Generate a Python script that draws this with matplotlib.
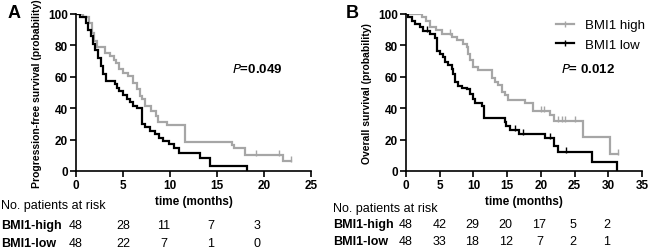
import matplotlib
matplotlib.use("Agg")
import matplotlib.pyplot as plt
from matplotlib.lines import Line2D
from matplotlib.transforms import blended_transform_factory
import numpy as np

plt.rcParams['font.family'] = ['Liberation Sans', 'DejaVu Sans']

# ---------------- data: panel A (progression-free survival) ----------------
a_high_t = [0, 0.7, 1.4, 1.7, 1.9, 2.2, 3.1, 3.6, 4.0, 4.3, 4.6, 5.0, 5.5, 6.1, 6.5,
            6.8, 7.0, 7.3, 8.0, 8.5, 8.7, 9.7, 11.6, 16.6, 16.8, 18.0, 22.0]
a_high_s = [100, 98, 94, 88, 83, 79, 75, 73, 71, 69, 65, 62.5, 60.4, 56, 52,
            48, 46, 41.7, 38, 35, 31, 29, 18.7, 16.5, 14.6, 10.4, 6.2]
a_high_end = 22.9
a_high_cens = [19.1, 21.6, 22.9]

a_low_t = [0, 0.4, 1.06, 1.31, 1.56, 1.77, 2.02, 2.38, 2.62, 2.91, 3.16, 4.15, 4.33, 4.6,
           5.04, 5.39, 5.74, 6.1, 6.45, 7.06, 7.34, 7.87, 8.4, 8.87, 9.29, 9.89, 10.4,
           11.0, 13.2, 14.3, 18.2]
a_low_s = [100, 97.9, 94, 90, 86, 81, 77, 72, 67, 62, 57.5, 55.3, 53, 51,
           48.4, 46, 43.8, 41.6, 40, 30, 27.8, 25.6, 23.4, 21.3, 19.1, 17, 14.9,
           11.5, 8.1, 3, 0]
a_low_end = 18.2
a_low_cens = []

a_risk_t = [0, 5, 10, 15, 20]
a_risk_high = [48, 28, 11, 7, 3]
a_risk_low = [48, 22, 7, 1, 0]

# ---------------- data: panel B (overall survival) ----------------
b_high_t = [0, 2.3, 3.0, 3.6, 4.5, 5.3, 6.8, 7.5, 8.5, 9.0, 9.25, 9.5, 10.0, 10.7, 12.7,
            13.2, 13.7, 14.2, 14.7, 15.2, 17.7, 18.8, 21.4, 21.9, 26.3, 30.3]
b_high_s = [100, 97.9, 95.8, 91.6, 89.5, 87.4, 85.3, 83.2, 81, 78.9, 74.7, 70.5, 66.3, 64.2, 59,
            56.8, 54.7, 50.6, 48.5, 45.4, 43.3, 38.4, 35.7, 32, 21.4, 10.8]
b_high_end = 31.5
b_high_cens = [6.5, 20.0, 20.5, 22.6, 23.1, 23.6, 25.1, 31.5]

b_low_t = [0, 0.34, 0.84, 1.33, 2.08, 2.57, 3.56, 4.3, 4.55, 5.05, 5.54, 5.79, 6.28, 6.78,
           7.0, 7.27, 7.76, 8.26, 9.0, 9.5, 9.99, 10.2, 11.2, 11.5, 14.7, 14.9, 15.4,
           16.7, 20.6, 21.9, 22.6, 27.6, 31.3]
b_low_s = [100, 97.9, 95.8, 93.7, 91.6, 89.4, 87.3, 85, 76.6, 74.5, 72.3, 69.5, 67.2, 65,
           62, 56.4, 54.2, 53, 52, 49, 46, 43.6, 41.5, 34, 31.2, 28.7, 26,
           23.5, 21.3, 16, 12, 5.5, 0]
b_low_end = 31.3
b_low_cens = [3.1, 16.2, 17.4, 21.4, 23.7]

b_risk_t = [0, 5, 10, 15, 20, 25, 30]
b_risk_high = [48, 42, 29, 20, 17, 5, 2]
b_risk_low = [48, 33, 18, 12, 7, 2, 1]

GRAY = '#a6a6a6'
BLACK = '#000000'


def km(ax, t, s, end, cens, color):
    tt = list(t) + [end]
    ss = list(s) + [s[-1]]
    ax.step(tt, ss, where='post', color=color, lw=1.6, solid_joinstyle='miter', zorder=3)
    if cens:
        idx = np.searchsorted(t, cens, side='right') - 1
        ax.plot(cens, np.array(s)[idx] + 1.2, ls='none', marker='|', ms=4, mew=1.0,
                color=color, zorder=3)


def style(ax, xmax):
    ax.set_xlim(0, xmax)
    ax.set_ylim(0, 100)
    ax.set_xticks(np.arange(0, xmax + 1, 5))
    ax.set_yticks(np.arange(0, 101, 20))
    for sp in ['top', 'right']:
        ax.spines[sp].set_visible(False)
    for sp in ['left', 'bottom']:
        ax.spines[sp].set_linewidth(1.2)
    ax.tick_params(direction='out', length=4, width=1.2, pad=2)
    for lab in ax.get_xticklabels() + ax.get_yticklabels():
        lab.set_fontweight('bold')
        lab.set_fontsize(8.5)
    ax.set_xlabel('time (months)', fontsize=8.5, fontweight='bold', labelpad=3)


fig = plt.figure(figsize=(6.5, 2.51), dpi=100)
W, H = 650.0, 251.0

axA = fig.add_axes([76 / W, 1 - 172 / H, 235 / W, 157 / H])
km(axA, a_high_t, a_high_s, a_high_end, a_high_cens, GRAY)
km(axA, a_low_t, a_low_s, a_low_end, a_low_cens, BLACK)
style(axA, 25)
axA.set_ylabel('Progression-free survival (probability)', fontsize=7.5, fontweight='bold', labelpad=4)
axA.text(232 / W, 1 - 70 / H, r'$\mathbf{\mathit{P}}$' + '=0.049', transform=fig.transFigure,
         fontsize=9.5, fontweight='bold', va='center', ha='left')

axB = fig.add_axes([406 / W, 1 - 172 / H, 236 / W, 157 / H])
km(axB, b_high_t, b_high_s, b_high_end, b_high_cens, GRAY)
km(axB, b_low_t, b_low_s, b_low_end, b_low_cens, BLACK)
style(axB, 35)
axB.set_ylabel('Overall survival (probability)', fontsize=7.5, fontweight='bold', labelpad=4)
axB.text(561 / W, 1 - 70 / H, r'$\mathbf{\mathit{P}}$' + '= 0.012', transform=fig.transFigure,
         fontsize=9.5, fontweight='bold', va='center', ha='left')

handles = [Line2D([], [], color=GRAY, lw=1.6, marker='|', ms=4, mew=1.0),
           Line2D([], [], color=BLACK, lw=1.6, marker='|', ms=4, mew=1.0)]
fig.legend(handles, ['BMI1 high', 'BMI1 low'], loc='upper left', bbox_to_anchor=(556 / W, 1 - 20 / H),
           frameon=False, fontsize=9.5, handlelength=1.4, handletextpad=0.8, labelspacing=0.55,
           numpoints=1, borderaxespad=0, borderpad=0)

fig.text(8 / W, 1 - 14 / H, 'A', fontsize=13, fontweight='bold', va='center', ha='left')
fig.text(346 / W, 1 - 14 / H, 'B', fontsize=13, fontweight='bold', va='center', ha='left')

# ---------------- number at risk tables ----------------
def risk_table(ax, x0, ys, times, high, low, shift):
    tr = blended_transform_factory(ax.transData, fig.transFigure)
    fig.text(x0 / W, 1 - ys[0] / H, 'No. patients at risk', fontsize=9, va='center', ha='left')
    fig.text(x0 / W, 1 - ys[1] / H, 'BMI1-high', fontsize=9, fontweight='bold', va='center', ha='left')
    fig.text(x0 / W, 1 - ys[2] / H, 'BMI1-low', fontsize=9, fontweight='bold', va='center', ha='left')
    for t, h, l in zip(times, high, low):
        ax.text(t - shift * (t > 5), 1 - ys[1] / H, str(h), transform=tr, fontsize=9,
                va='center', ha='center', clip_on=False)
        ax.text(t - shift * (t > 5), 1 - ys[2] / H, str(l), transform=tr, fontsize=9,
                va='center', ha='center', clip_on=False)


risk_table(axA, 1, [206, 226.5, 244.5], a_risk_t, a_risk_high, a_risk_low, 0.7)
risk_table(axB, 333, [209, 225.5, 242.5], b_risk_t, b_risk_high, b_risk_low, 0.2)

fig.savefig('out.png', dpi=100)
